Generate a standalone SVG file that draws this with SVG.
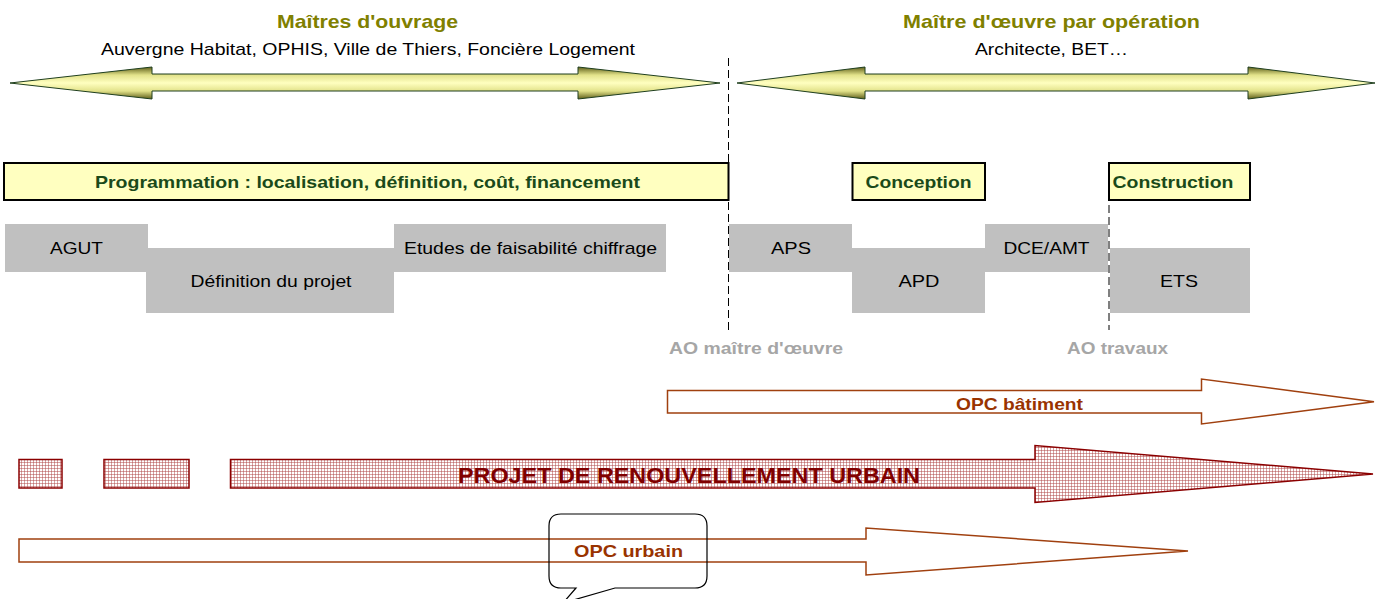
<svg xmlns="http://www.w3.org/2000/svg" width="1382" height="599" viewBox="0 0 1382 599">
<style>
text{font-family:"Liberation Sans",Arial,sans-serif;}
.title{font-size:19px;font-weight:bold;fill:#808000;text-anchor:middle;}
.sub{font-size:17px;fill:#000;text-anchor:middle;}
.phase{fill:#FFFFC0;stroke:#000;stroke-width:2;}
.phaset{font-size:17px;font-weight:bold;fill:#1A4A1A;text-anchor:middle;}
.step{fill:#C0C0C0;stroke:none;}
.stept{font-size:17px;fill:#000;text-anchor:middle;}
.ao{font-size:17px;font-weight:bold;fill:#A6A6A6;text-anchor:middle;}
.opc{fill:#fff;stroke:#A0400F;stroke-width:1.5;}
.opct{font-size:17px;font-weight:bold;fill:#993300;text-anchor:middle;}
.pru{fill:url(#grid);stroke:#8B0000;stroke-width:1.5;}
.dash{stroke:#000;stroke-width:1;stroke-dasharray:8 4;fill:none;}
.big{fill:url(#olive);stroke:#1F3F1F;stroke-width:1;}
</style>
<defs>
<linearGradient id="olive" x1="0" y1="0" x2="0" y2="1">
<stop offset="0" stop-color="#5F5F1A"/>
<stop offset="0.25" stop-color="#E2E28A"/>
<stop offset="0.5" stop-color="#FFFFC0"/>
<stop offset="0.75" stop-color="#E2E28A"/>
<stop offset="1" stop-color="#5F5F1A"/>
</linearGradient>
<pattern id="grid" width="3" height="3" patternUnits="userSpaceOnUse">
<rect width="3" height="3" fill="#fff"/>
<rect width="3" height="1" fill="#B04848" opacity="0.5"/>
<rect width="1" height="3" fill="#B04848" opacity="0.5"/>
</pattern>
</defs>

<g id="connectors">
<line class="dash" x1="728.5" y1="58" x2="728.5" y2="330"/>
<line class="dash" x1="1109" y1="205" x2="1109" y2="330"/>
</g>

<g id="maitres-ouvrage">
<path class="big" d="M10,83 L152,67 V74 H578 V67 L720,83 L578,99 V91 H152 V99 Z"/>
<text class="title" x="367.5" y="28" textLength="181" lengthAdjust="spacingAndGlyphs">Maîtres d'ouvrage</text>
<text class="sub" x="368" y="55" textLength="534" lengthAdjust="spacingAndGlyphs">Auvergne Habitat, OPHIS, Ville de Thiers, Foncière Logement</text>
</g>

<g id="maitre-oeuvre">
<path class="big" d="M737,83 L865,67 V74 H1248 V67 L1375,83 L1248,99 V91 H865 V99 Z"/>
<text class="title" x="1051.5" y="28" textLength="297" lengthAdjust="spacingAndGlyphs">Maître d'œuvre par opération</text>
<text class="sub" x="1051.5" y="55" textLength="153" lengthAdjust="spacingAndGlyphs">Architecte, BET…</text>
</g>

<g id="programmation">
<rect class="phase" x="4" y="163" width="724.5" height="37"/>
<text class="phaset" x="367.5" y="187.5" textLength="545" lengthAdjust="spacingAndGlyphs">Programmation : localisation, définition, coût, financement</text>
</g>
<g id="conception">
<rect class="phase" x="852.5" y="163" width="132.5" height="37"/>
<text class="phaset" x="918.5" y="187.5" textLength="106" lengthAdjust="spacingAndGlyphs">Conception</text>
</g>
<g id="construction">
<rect class="phase" x="1109" y="163" width="141" height="37"/>
<text class="phaset" x="1173" y="187.5" textLength="121" lengthAdjust="spacingAndGlyphs">Construction</text>
</g>

<g id="agut">
<rect class="step" x="5" y="224" width="143" height="48"/>
<text class="stept" x="76.5" y="254" textLength="53" lengthAdjust="spacingAndGlyphs">AGUT</text>
</g>
<g id="definition">
<rect class="step" x="146" y="248" width="248" height="65"/>
<text class="stept" x="271" y="287" textLength="161" lengthAdjust="spacingAndGlyphs">Définition du projet</text>
</g>
<g id="etudes">
<rect class="step" x="394" y="224" width="272" height="48"/>
<text class="stept" x="530.5" y="254" textLength="253" lengthAdjust="spacingAndGlyphs">Etudes de faisabilité chiffrage</text>
</g>
<g id="aps">
<rect class="step" x="729" y="224" width="123" height="48"/>
<text class="stept" x="791" y="254" textLength="40" lengthAdjust="spacingAndGlyphs">APS</text>
</g>
<g id="apd">
<rect class="step" x="852" y="248" width="133" height="65"/>
<text class="stept" x="919" y="287" textLength="41" lengthAdjust="spacingAndGlyphs">APD</text>
</g>
<g id="dce-amt">
<rect class="step" x="985" y="224" width="123" height="48"/>
<text class="stept" x="1046.5" y="254" textLength="86" lengthAdjust="spacingAndGlyphs">DCE/AMT</text>
</g>
<g id="ets">
<rect class="step" x="1110" y="248" width="140" height="65"/>
<text class="stept" x="1179" y="287" textLength="38" lengthAdjust="spacingAndGlyphs">ETS</text>
</g>

<g id="ao-moe">
<text class="ao" x="756" y="354" textLength="174" lengthAdjust="spacingAndGlyphs">AO maître d'œuvre</text>
</g>
<g id="ao-travaux">
<text class="ao" x="1117.5" y="354" textLength="101" lengthAdjust="spacingAndGlyphs">AO travaux</text>
</g>

<g id="opc-batiment">
<path class="opc" d="M667.5,390.5 H1201.5 V379 L1374,401.7 L1201.5,424 V413 H667.5 Z"/>
<text class="opct" x="1019.5" y="410" textLength="127" lengthAdjust="spacingAndGlyphs">OPC bâtiment</text>
</g>

<g id="pru">
<rect class="pru" x="19" y="459.5" width="43" height="28.5"/>
<rect class="pru" x="104" y="459.5" width="85" height="28.5"/>
<path class="pru" d="M230.5,459.5 H1035 V445.5 L1373,474 L1035,502.5 V488 H230.5 Z"/>
<text x="689" y="483" font-size="22" font-weight="bold" fill="#800000" text-anchor="middle" textLength="462" lengthAdjust="spacingAndGlyphs">PROJET DE RENOUVELLEMENT URBAIN</text>
</g>

<g id="opc-urbain">
<path class="opc" d="M19,539 H866 V528 L1188,551 L866,575 V562 H19 Z"/>
<path d="M561,514 H695 Q707,514 707,526 V576 Q707,588 695,588 H615 L563,603 L576,588 H561 Q549,588 549,576 V526 Q549,514 561,514 Z" fill="none" stroke="#000" stroke-width="1.2"/>
<text class="opct" x="628.5" y="557" textLength="109" lengthAdjust="spacingAndGlyphs">OPC urbain</text>
</g>
</svg>
